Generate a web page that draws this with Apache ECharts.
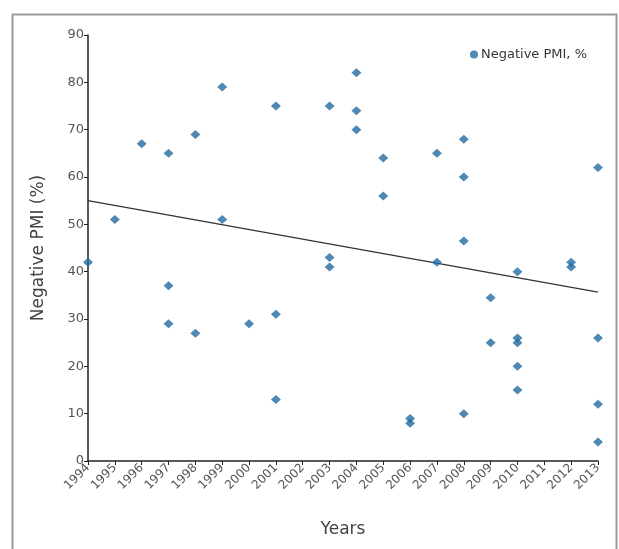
<!DOCTYPE html>
<html>
<head>
<meta charset="utf-8">
<script src="https://cdn.jsdelivr.net/npm/echarts@6/dist/echarts.min.js"></script>
<style>html,body{margin:0;padding:0;background:#fff;}#chart{width:619px;height:549px;}</style>
</head>
<body>
<div id="chart"></div>
<script>
const pointYears = [1994,1995,1996,1997,1997,1997,1998,1998,1999,1999,2000,2001,2001,2001,2003,2003,2003,2004,2004,2004,2005,2005,2006,2006,2007,2007,2008,2008,2008,2008,2009,2009,2010,2010,2010,2010,2010,2012,2012,2013,2013,2013,2013];
const pointValues = [42,51,67,65,37,29,69,27,79,51,29,75,31,13,75,43,41,82,74,70,64,56,9,8,65,42,68,60,46.5,10,34.5,25,40,26,25,20,15,42,41,62,26,12,4];
const trendYears = [1994, 2013];
const trendValues = [55.0, 35.7];
const yTicks = [0,10,20,30,40,50,60,70,80,90];
const seriesName = 'Negative PMI, %';

const FONT = 'DejaVu Sans, Liberation Sans, sans-serif';
const scatterData = pointYears.map((y, i) => [y, pointValues[i]]);
const trendData = trendYears.map((y, i) => [y, trendValues[i]]);

const chart = echarts.init(document.getElementById('chart'), null, {renderer: 'canvas'});
chart.setOption({
  backgroundColor: '#fff',
  animation: false,
  textStyle: {fontFamily: FONT},
  graphic: [{
    type: 'rect', left: 10, top: 12, z: -1,
    shape: {width: 604, height: 560},
    style: {fill: 'none', stroke: '#9a9a9a', lineWidth: 2}
  }],
  grid: {left: 88, right: 21, top: 35, bottom: 88, containLabel: false},
  legend: {
    left: 465, top: 43,
    data: [{name: seriesName, icon: 'circle'}],
    itemWidth: 8, itemHeight: 8, itemGap: 4,
    textStyle: {fontSize: 13, color: '#333', fontFamily: FONT, padding: [0, 0, 0, -2]}
  },
  xAxis: {
    type: 'value', min: 1994, max: 2013, interval: 1,
    name: 'Years', nameLocation: 'middle', nameGap: 60,
    nameTextStyle: {fontSize: 17, color: '#444', fontFamily: FONT},
    axisLine: {lineStyle: {color: '#222', width: 1.5}},
    axisTick: {show: true, length: 4, lineStyle: {color: '#222'}},
    axisLabel: {rotate: 45, fontSize: 12, color: '#555', margin: 5, fontFamily: FONT, formatter: v => String(v)},
    splitLine: {show: false}
  },
  yAxis: {
    type: 'value', min: yTicks[0], max: yTicks[yTicks.length - 1], interval: 10,
    name: 'Negative PMI (%)', nameLocation: 'middle', nameGap: 41,
    nameTextStyle: {fontSize: 17, color: '#444', fontFamily: FONT},
    axisLine: {show: true, lineStyle: {color: '#222', width: 1.5}},
    axisTick: {show: true, length: 4, lineStyle: {color: '#222'}},
    axisLabel: {fontSize: 13, color: '#555', margin: 4, fontFamily: FONT},
    splitLine: {show: false}
  },
  series: [
    {
      name: seriesName, type: 'scatter', data: scatterData,
      symbol: 'diamond', symbolSize: [10, 9],
      itemStyle: {color: '#236aa0'}, z: 3
    },
    {
      name: 'trend', type: 'line', data: trendData,
      symbol: 'none', lineStyle: {color: '#333', width: 1.3},
      z: 2, silent: true
    }
  ]
});
</script>
</body>
</html>
